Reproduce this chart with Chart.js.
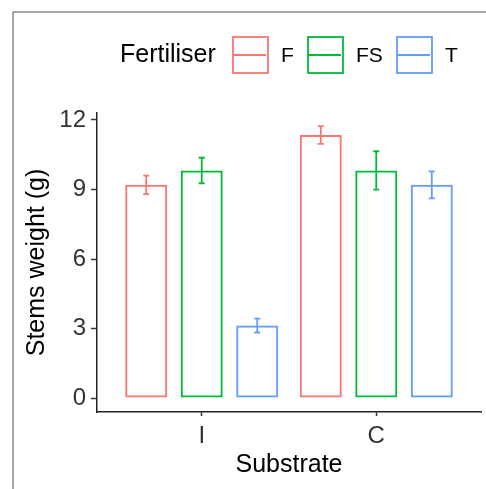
<!DOCTYPE html>
<html>
<head>
<meta charset="utf-8">
<script src="https://cdn.jsdelivr.net/npm/chart.js@4"></script>
<style>
  html, body { margin: 0; padding: 0; background: #fff; }
  #wrap { width: 486px; height: 489px; }
</style>
</head>
<body>
<div id="wrap"><canvas id="stemsChart"></canvas></div>
<script>
// データ
const substrates = ['I', 'C'];
const fertilisers = ['F', 'FS', 'T'];
const meanF = [9.2, 11.35];
const meanFS = [9.82, 9.82];
const meanT = [3.13, 9.2];
const errF = [0.4, 0.38];
const errFS = [0.55, 0.83];
const errT = [0.3, 0.58];
const yTicks = [0, 3, 6, 9, 12];

const colours = ['#F8766D', '#00BA38', '#619CFF'];
const means = [meanF, meanFS, meanT];
const errs = [errF, errFS, errT];
const FONT = '"Liberation Sans", Arial, sans-serif';

// 枠線（上と左）
const framePlugin = {
  id: 'frame',
  beforeDraw(chart) {
    const ctx = chart.ctx;
    ctx.save();
    ctx.strokeStyle = '#8a8a8a';
    ctx.lineWidth = 1.5;
    ctx.beginPath();
    ctx.moveTo(13, 489);
    ctx.lineTo(13, 12);
    ctx.lineTo(486, 12);
    ctx.stroke();
    ctx.restore();
  }
};

// エラーバー
const errorBarPlugin = {
  id: 'errorBars',
  afterDatasetsDraw(chart) {
    const ctx = chart.ctx;
    const y = chart.scales.y;
    ctx.save();
    ctx.lineWidth = 1.8;
    chart.data.datasets.forEach((ds, i) => {
      const meta = chart.getDatasetMeta(i);
      meta.data.forEach((bar, j) => {
        const v = means[i][j], e = errs[i][j];
        const top = y.getPixelForValue(v + e);
        const bot = y.getPixelForValue(v - e);
        const cx = bar.x, cap = 3;
        ctx.strokeStyle = colours[i];
        ctx.beginPath();
        ctx.moveTo(cx, top); ctx.lineTo(cx, bot);
        ctx.moveTo(cx - cap, top); ctx.lineTo(cx + cap, top);
        ctx.moveTo(cx - cap, bot); ctx.lineTo(cx + cap, bot);
        ctx.stroke();
      });
    });
    ctx.restore();
  }
};

// 凡例
const legendPlugin = {
  id: 'ggLegend',
  afterDraw(chart) {
    const ctx = chart.ctx;
    const cy = 55;
    ctx.save();
    ctx.textBaseline = 'middle';
    ctx.textAlign = 'left';
    ctx.fillStyle = '#000';
    ctx.font = '25px ' + FONT;
    ctx.fillText('Fertiliser', 120, cy);
    const boxX = [233, 308, 397];
    ctx.font = '21px ' + FONT;
    fertilisers.forEach((f, i) => {
      const x = boxX[i];
      ctx.strokeStyle = colours[i];
      ctx.lineWidth = 1.8;
      ctx.strokeRect(x, 37, 35, 36);
      ctx.beginPath();
      ctx.moveTo(x, cy); ctx.lineTo(x + 33, cy);
      ctx.stroke();
      ctx.fillStyle = '#000';
      ctx.fillText(f, x + 48, cy + 1);
    });
    ctx.restore();
  }
};

const datasets = fertilisers.map((f, i) => ({
  label: f,
  data: means[i].map((v, j) => ({ x: j + 1, y: v })),
  backgroundColor: 'rgba(255,255,255,0)',
  borderColor: colours[i],
  borderWidth: 2,
  borderSkipped: false,
  categoryPercentage: 0.954,
  barPercentage: 0.757
}));

const ctx = document.getElementById('stemsChart').getContext('2d');
new Chart(ctx, {
  type: 'bar',
  data: { datasets },
  options: {
    responsive: true,
    maintainAspectRatio: false,
    animation: false,
    layout: { padding: { top: 113, right: 5, left: 0, bottom: 0 } },
    plugins: {
      legend: { display: false },
      tooltip: { enabled: false }
    },
    scales: {
      x: {
        type: 'linear',
        min: 0.4,
        max: 2.6,
        offset: false,
        afterBuildTicks: (s) => { s.ticks = substrates.map((_, j) => ({ value: j + 1 })); },
        afterFit: (s) => { s.height = 77; },
        grid: { display: true, drawOnChartArea: false, offset: false, tickLength: 4, tickColor: '#333', tickWidth: 1.5 },
        border: { display: true, color: '#222', width: 1.5 },
        ticks: {
          color: '#333',
          font: { family: FONT, size: 24 },
          padding: 6,
          callback: (v) => substrates[v - 1] ?? ''
        },
        title: {
          display: true,
          text: 'Substrate',
          color: '#000',
          font: { family: FONT, size: 25 },
          padding: { top: 0, bottom: 9 }
        }
      },
      y: {
        min: -0.6,
        max: 12.3,
        afterBuildTicks: (s) => { s.ticks = yTicks.map(v => ({ value: v })); },
        afterFit: (s) => { s.width = 97; },
        grid: { display: true, drawOnChartArea: false, tickLength: 6, tickColor: '#333', tickWidth: 1.5 },
        border: { display: true, color: '#222', width: 1.5 },
        ticks: {
          color: '#333',
          font: { family: FONT, size: 24 },
          padding: 5
        },
        title: {
          display: true,
          text: 'Stems weight (g)',
          color: '#000',
          font: { family: FONT, size: 25 },
          padding: { top: 22, bottom: 0 }
        }
      }
    }
  },
  plugins: [framePlugin, errorBarPlugin, legendPlugin]
});
</script>
</body>
</html>
